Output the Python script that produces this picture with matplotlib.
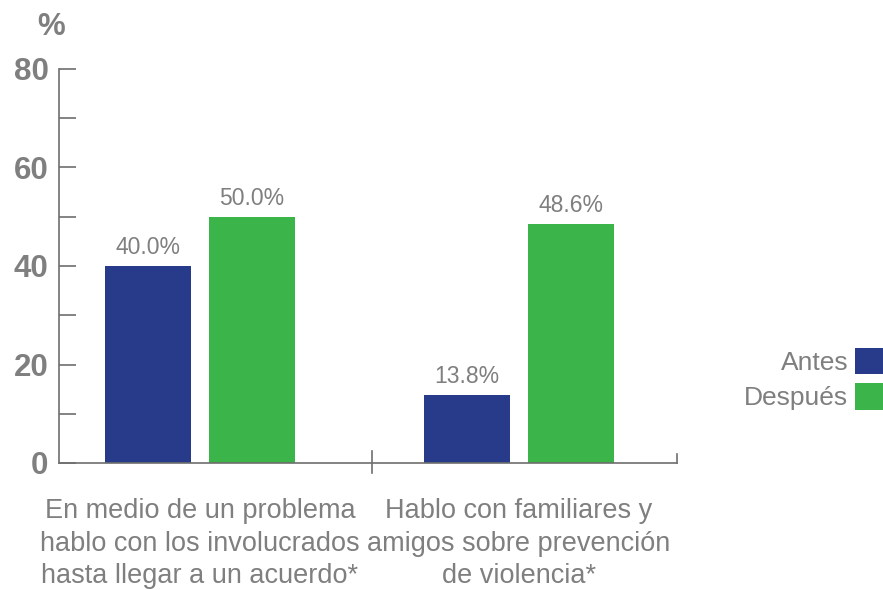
import matplotlib
matplotlib.use("Agg")
import matplotlib.pyplot as plt
import numpy as np

categories = ["En medio de un problema\nhablo con los involucrados\nhasta llegar a un acuerdo*",
              "Hablo con familiares y\namigos sobre prevención\nde violencia*"]
series_names = ["Antes", "Después"]
antes = [40.0, 13.8]
despues = [50.0, 48.6]
yticks = [0, 20, 40, 60, 80]

BLUE = "#283A8A"
GREEN = "#3BB54A"
GREY = "#7f7f7f"
AXGREY = "#6e6e6e"

plt.rcParams['font.family'] = ['Liberation Sans', 'DejaVu Sans']

fig = plt.figure(figsize=(8.83, 5.90), dpi=100)
ax = fig.add_axes([59/883, 1-463/590, (677-59)/883, (463-69)/590])

x = np.arange(len(categories))
w = 0.27
off = 0.163
b1 = ax.bar(x - off, antes, w, color=BLUE, label=series_names[0], zorder=2)
b2 = ax.bar(x + off, despues, w, color=GREEN, label=series_names[1], zorder=2)

for bars, vals in ((b1, antes), (b2, despues)):
    for r, v in zip(bars, vals):
        ax.annotate(f"{v:.1f}%", (r.get_x() + r.get_width()/2, v),
                    xytext=(0, 5), textcoords="offset points",
                    ha="center", va="bottom", fontsize=16.5, color=GREY)

ax.set_xlim(-0.442, 1.495)
ax.set_ylim(0, 80)

for s in ("top", "right"):
    ax.spines[s].set_visible(False)
for s in ("left", "bottom"):
    ax.spines[s].set_color(AXGREY)
    ax.spines[s].set_linewidth(1.2)

ax.set_yticks(yticks)
ax.set_yticks([10, 30, 50, 70], minor=True)
ax.set_yticklabels([str(t) for t in yticks], fontsize=22.5, fontweight="bold", color=GREY)
ax.tick_params(axis="y", which="both", direction="in", length=12, width=1.2,
               color=AXGREY, pad=7.5)

ax.set_xticks(x)
ax.set_xticklabels(categories, fontsize=19.5, color=GREY, linespacing=1.34)
ax.tick_params(axis="x", length=0, pad=25)

# separator and end ticks on the x axis
ax.plot([0.54, 0.54], [-0.025, 0.03], transform=ax.get_xaxis_transform(),
        color=AXGREY, lw=1.2, clip_on=False)
ax.plot([1.495, 1.495], [0, 0.022], transform=ax.get_xaxis_transform(),
        color=AXGREY, lw=1.2, clip_on=False)

fig.text(51/883, 1-27/590, "%", fontsize=22.5, fontweight="bold", color=GREY,
         ha="center", va="center")

leg = ax.legend(loc="center right", bbox_to_anchor=(884/883, 1-379/590),
                bbox_transform=fig.transFigure, frameon=False, markerfirst=False,
                fontsize=19, handlelength=1.1, handleheight=1.15, handletextpad=0.25,
                labelspacing=0.33, borderaxespad=0, borderpad=0)
for t in leg.get_texts():
    t.set_color(GREY)

fig.savefig("out.png", dpi=100)
